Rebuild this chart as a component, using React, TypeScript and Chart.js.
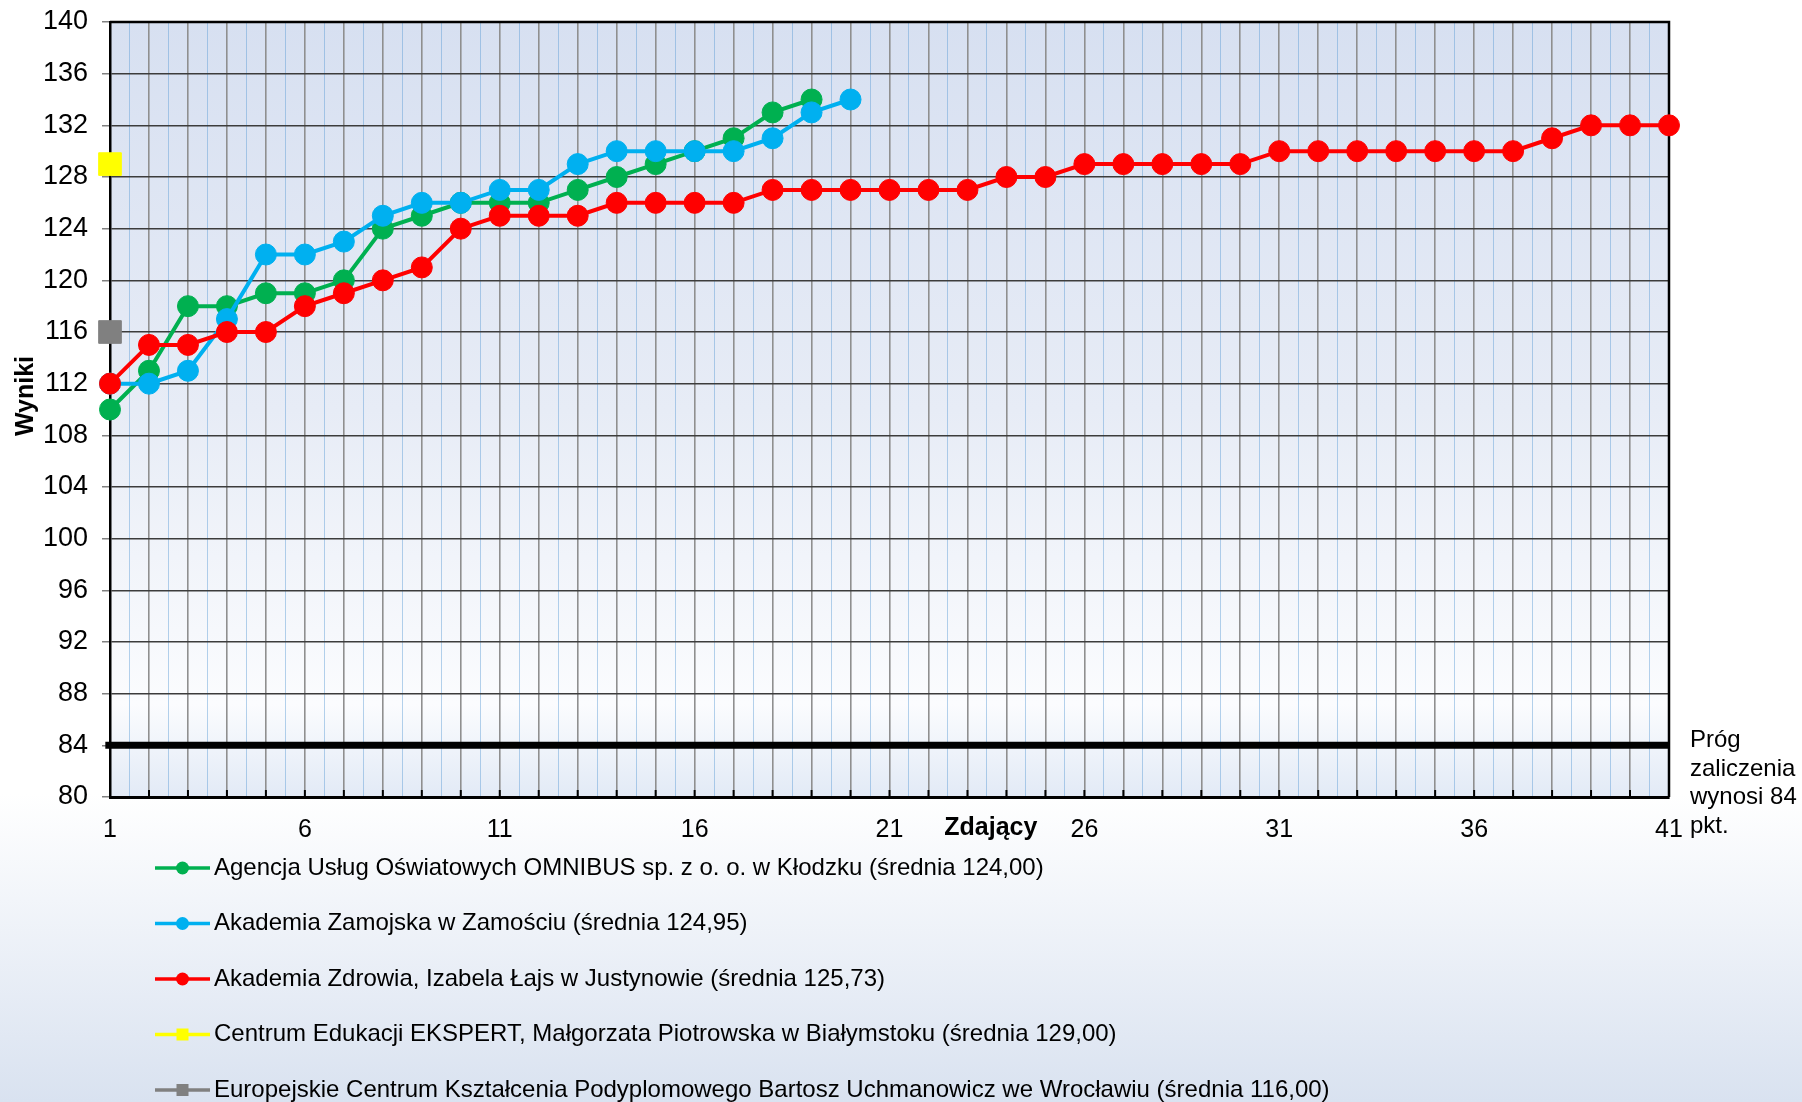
import React, { useEffect, useRef } from 'react';
import { Chart, registerables } from 'chart.js';

Chart.register(...registerables);

// ---------- data ----------
const SERIES_NAMES = [
  'Agencja Usług Oświatowych OMNIBUS sp. z o. o. w Kłodzku (średnia 124,00)',
  'Akademia Zamojska w Zamościu (średnia 124,95)',
  'Akademia Zdrowia, Izabela Łajs w Justynowie (średnia 125,73)',
  'Centrum Edukacji EKSPERT, Małgorzata Piotrowska w Białymstoku (średnia 129,00)',
  'Europejskie Centrum Kształcenia Podyplomowego Bartosz Uchmanowicz we Wrocławiu (średnia 116,00)',
];
const SERIES_COLORS = ['#00b050', '#00b0f0', '#ff0000', '#ffff00', '#808080'];
const SERIES_SHAPES = ['circle', 'circle', 'circle', 'rect', 'rect'];

const GREEN = [110, 113, 118, 118, 119, 119, 120, 124, 125, 126, 126, 126, 127, 128, 129, 130, 131, 133, 134];
const BLUE = [112, 112, 113, 117, 122, 122, 123, 125, 126, 126, 127, 127, 129, 130, 130, 130, 130, 131, 133, 134];
const RED = [
  112, 115, 115, 116, 116, 118, 119, 120, 121, 124, 125, 125, 125, 126, 126, 126, 126, 127, 127, 127, 127,
  127, 127, 128, 128, 129, 129, 129, 129, 129, 130, 130, 130, 130, 130, 130, 130, 131, 132, 132, 132,
];
const YELLOW = [129];
const GRAY = [116];
const SERIES_VALUES = [GREEN, BLUE, RED, YELLOW, GRAY];

const THRESHOLD = 84;
const THRESHOLD_TEXT = ['Próg', 'zaliczenia', 'wynosi 84', 'pkt.'];
const X_MIN = 1;
const X_MAX = 41;
const X_LABEL_STEP = 5;
const Y_MIN = 80;
const Y_MAX = 140;
const Y_STEP = 4;
const X_TITLE = 'Zdający';
const Y_TITLE = 'Wyniki';

const FONT = "'Liberation Sans', Arial, sans-serif";

const isInt = (v: number) => Math.abs(v - Math.round(v)) < 1e-6;

const decorPlugin = {
  id: 'decor',
  beforeDraw(chart: any) {
    const { ctx, width, height, chartArea: a } = chart;
    ctx.save();
    const g = ctx.createLinearGradient(0, 0, 0, height);
    g.addColorStop(0, '#ffffff');
    g.addColorStop(0.72, '#ffffff');
    g.addColorStop(1, '#d9e2f0');
    ctx.fillStyle = g;
    ctx.fillRect(0, 0, width, height);
    const g2 = ctx.createLinearGradient(0, a.top, 0, a.bottom);
    g2.addColorStop(0, '#d7e0f1');
    g2.addColorStop(0.5, '#e7ecf6');
    g2.addColorStop(0.88, '#fbfcfe');
    g2.addColorStop(1, '#e2eaf6');
    ctx.fillStyle = g2;
    ctx.fillRect(a.left, a.top, a.right - a.left, a.bottom - a.top);
    ctx.restore();
  },
  beforeDatasetsDraw(chart: any) {
    const { ctx, chartArea: a, scales } = chart;
    ctx.save();
    // plot frame
    ctx.strokeStyle = '#000';
    ctx.lineWidth = 2.5;
    ctx.beginPath();
    ctx.moveTo(a.left, a.top);
    ctx.lineTo(a.right, a.top);
    ctx.lineTo(a.right, a.bottom);
    ctx.stroke();
    // inner tick marks on x axis
    ctx.lineWidth = 2;
    for (let v = X_MIN; v <= X_MAX; v++) {
      const px = scales.x.getPixelForValue(v);
      ctx.beginPath();
      ctx.moveTo(px, a.bottom);
      ctx.lineTo(px, a.bottom - 7);
      ctx.stroke();
    }
    ctx.restore();
  },
  afterDraw(chart: any) {
    const { ctx, chartArea: a, scales } = chart;
    ctx.save();
    ctx.fillStyle = '#000';
    // y title
    ctx.font = `bold 25px ${FONT}`;
    ctx.textAlign = 'center';
    ctx.textBaseline = 'middle';
    ctx.save();
    ctx.translate(26, 396);
    ctx.rotate(-Math.PI / 2);
    ctx.fillText(Y_TITLE, 0, 0);
    ctx.restore();
    // x title (in line with tick labels)
    ctx.fillText(X_TITLE, scales.x.getPixelForValue(23.6), a.bottom + 31);
    // threshold text
    ctx.font = `24px ${FONT}`;
    ctx.textAlign = 'left';
    ctx.textBaseline = 'alphabetic';
    const y84 = scales.y.getPixelForValue(THRESHOLD);
    THRESHOLD_TEXT.forEach((t, i) => ctx.fillText(t, a.right + 21, y84 + 2 + i * 28.5));
    // legend
    ctx.font = `24px ${FONT}`;
    ctx.textBaseline = 'middle';
    SERIES_NAMES.forEach((name, i) => {
      const cy = 868 + i * 55.5;
      ctx.strokeStyle = SERIES_COLORS[i];
      ctx.lineWidth = 3.5;
      ctx.beginPath();
      ctx.moveTo(155, cy);
      ctx.lineTo(210, cy);
      ctx.stroke();
      ctx.fillStyle = SERIES_COLORS[i];
      if (SERIES_SHAPES[i] === 'circle') {
        ctx.beginPath();
        ctx.arc(182.5, cy, 6.5, 0, Math.PI * 2);
        ctx.fill();
      } else {
        ctx.fillRect(176.5, cy - 6, 12, 12);
      }
      ctx.fillStyle = '#000';
      ctx.fillText(name, 214, cy);
    });
    ctx.restore();
  },
};

export default function App() {
  const ref = useRef<HTMLCanvasElement | null>(null);

  useEffect(() => {
    if (!ref.current) return;
    const n = SERIES_VALUES.length;
    const datasets: any[] = SERIES_VALUES.map((vals, i) => ({
      label: SERIES_NAMES[i],
      data: vals.map((v, k) => ({ x: X_MIN + k, y: v })),
      borderColor: SERIES_COLORS[i],
      backgroundColor: SERIES_COLORS[i],
      borderWidth: 4,
      pointStyle: SERIES_SHAPES[i],
      pointRadius: SERIES_SHAPES[i] === 'circle' ? 10.5 : 16,
      pointBorderWidth: 1,
      pointBorderColor: SERIES_COLORS[i],
      pointHoverRadius: 0,
      order: n - i,
      clip: false,
    }));
    datasets.push({
      label: 'threshold',
      data: [
        { x: X_MIN - 0.12, y: THRESHOLD },
        { x: X_MAX, y: THRESHOLD },
      ],
      borderColor: '#000',
      borderWidth: 7,
      pointRadius: 0,
      order: n + 1,
      clip: false,
    });

    const chart = new Chart(ref.current, {
      type: 'line',
      data: { datasets },
      plugins: [decorPlugin],
      options: {
        animation: false,
        responsive: false,
        devicePixelRatio: 1,
        layout: { padding: { left: 0, top: 22, right: 133, bottom: 265 } },
        plugins: { legend: { display: false }, tooltip: { enabled: false } },
        elements: { line: { tension: 0 } },
        scales: {
          x: {
            type: 'linear',
            min: X_MIN,
            max: X_MAX,
            afterFit: (s: any) => {
              s.height = 40;
              s.paddingLeft = 0;
              s.paddingRight = 0;
            },
            ticks: {
              stepSize: 0.5,
              autoSkip: false,
              maxRotation: 0,
              padding: 18,
              color: '#000',
              font: { family: FONT, size: 25 },
              callback: (v: any) => {
                const num = Number(v);
                return isInt(num) && Math.round(num - X_MIN) % X_LABEL_STEP === 0 ? String(Math.round(num)) : '';
              },
            },
            grid: {
              drawTicks: false,
              color: (c: any) => (c.tick && isInt(c.tick.value) ? '#8f8f8f' : 'rgba(91,155,213,0.45)'),
              lineWidth: (c: any) => (c.tick && isInt(c.tick.value) ? 1.6 : 1),
            },
            border: { color: '#000', width: 3 },
          },
          y: {
            type: 'linear',
            min: Y_MIN,
            max: Y_MAX,
            afterFit: (s: any) => {
              s.width = 110;
              s.paddingTop = 0;
              s.paddingBottom = 0;
            },
            ticks: {
              stepSize: Y_STEP,
              padding: 14,
              color: '#000',
              font: { family: FONT, size: 27 },
            },
            grid: {
              color: '#3c3c3c',
              lineWidth: 1.5,
              tickColor: '#808080',
              tickLength: 8,
            },
            border: { color: '#000', width: 2.5 },
          },
        },
      } as any,
    });
    return () => chart.destroy();
  }, []);

  return (
    <div style={{ position: 'fixed', left: 0, top: 0, width: 1802, height: 1102 }}>
      <canvas ref={ref} width={1802} height={1102} style={{ display: 'block', width: 1802, height: 1102 }} />
    </div>
  );
}
